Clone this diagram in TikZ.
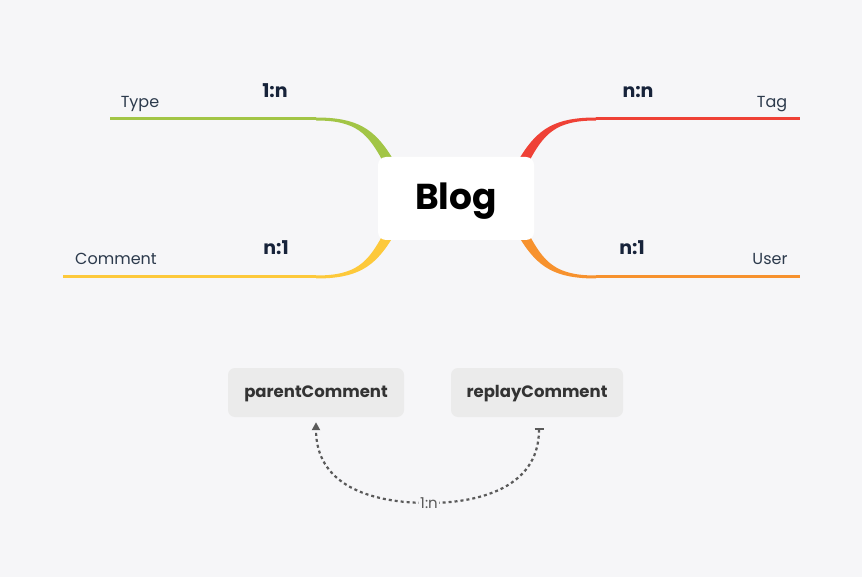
\documentclass[tikz,border=0pt]{standalone}
\usepackage{fontspec}
\setmainfont{Poppins}
\usetikzlibrary{arrows.meta,calc}
\definecolor{bg}{HTML}{F6F6F8}
\definecolor{cgreen}{HTML}{A2C546}
\definecolor{cred}{HTML}{EF4136}
\definecolor{cyellow}{HTML}{FDC93B}
\definecolor{corange}{HTML}{F7922E}
\definecolor{navy}{HTML}{17233A}
\definecolor{labtxt}{HTML}{2C3A4C}
\definecolor{boxfill}{HTML}{EBEBEB}
\definecolor{boxtxt}{HTML}{333333}
\definecolor{dotc}{HTML}{5A5A5A}
\tikzset{
  blogbox/.style={fill=white, rounded corners=8pt, minimum width=156pt, minimum height=83pt, inner sep=0pt, text height=25pt, text depth=2pt, font=\fontsize{36}{38}\selectfont\bfseries, text=black},
  leaf/.style={font=\fontsize{16}{18}\selectfont, text=labtxt, inner sep=0pt, anchor=base},
  rel/.style={font=\fontsize{19}{21}\selectfont\bfseries, text=navy, inner sep=0pt, anchor=base},
  subbox/.style={fill=boxfill, rounded corners=7pt, minimum width=176pt, minimum height=49pt, inner sep=0pt, text height=12pt, text depth=2pt, font=\fontsize{16.5}{18}\selectfont\bfseries, text=boxtxt},
  dotline/.style={draw=dotc, line width=2.2pt, dash pattern=on 3pt off 3pt},
}
\newcommand{\taper}{%
  (-140,-81) .. controls (-100,-81) and (-82,-70.5) .. (-64,-41) -- (-72,-35) .. controls (-88,-65.5) and (-100,-78) .. (-140,-78) -- cycle}
\begin{document}
\begin{tikzpicture}[x=1pt,y=-1pt]
\fill[bg] (0,0) rectangle (862,577);
\useasboundingbox (0,0) rectangle (862,577);
% branches
\begin{scope}[shift={(456,198.5)}]
  \fill[cgreen] \taper;
  \draw[cgreen, line width=3pt] (-140,-79.5) -- (-346,-79.5);
\end{scope}
\begin{scope}[shift={(456,198.5)}, xscale=-1]
  \fill[cred] \taper;
  \draw[cred, line width=3pt] (-140,-79.5) -- (-344,-79.5);
\end{scope}
\begin{scope}[shift={(456,197.5)}, yscale=-1]
  \fill[cyellow] \taper;
  \draw[cyellow, line width=3pt] (-140,-79.5) -- (-393,-79.5);
\end{scope}
\begin{scope}[shift={(456,197.5)}, xscale=-1, yscale=-1]
  \fill[corange] \taper;
  \draw[corange, line width=3pt] (-140,-79.5) -- (-344,-79.5);
\end{scope}
% central node
\node[blogbox] (blog) at (456,198.5) {Blog};
% leaf labels
\node[leaf] (type) at (140,108) {Type};
\node[rel] (r1) at (275,98) {1:n};
\node[leaf] (tag) at (772,108) {Tag};
\node[rel] (r2) at (638,98) {n:n};
\node[leaf] (comment) at (116,265) {Comment};
\node[rel] (r3) at (276,255) {n:1};
\node[leaf] (user) at (770,265) {User};
\node[rel] (r4) at (632,255) {n:1};
% sub nodes
\node[subbox] (pc) at (316,392.5) {parentComment};
\node[subbox, minimum width=172pt] (rc) at (537,392.5) {replayComment};
\draw[dotline, {Bar[width=9pt,line width=2pt]}-{Triangle[width=8pt,length=8pt]}, shorten <=11pt, shorten >=5pt]
  ($(rc.south)+(2,0)$) .. controls (539,492) and (470,503) .. (429,503)
  .. controls (368,503) and (316,484) .. (pc.south);
\node[fill=bg, inner xsep=1pt, inner ysep=1pt, anchor=base, font=\fontsize{15}{17}\selectfont, text=dotc] (lbl) at (429,508) {1:n};
\end{tikzpicture}
\end{document}
